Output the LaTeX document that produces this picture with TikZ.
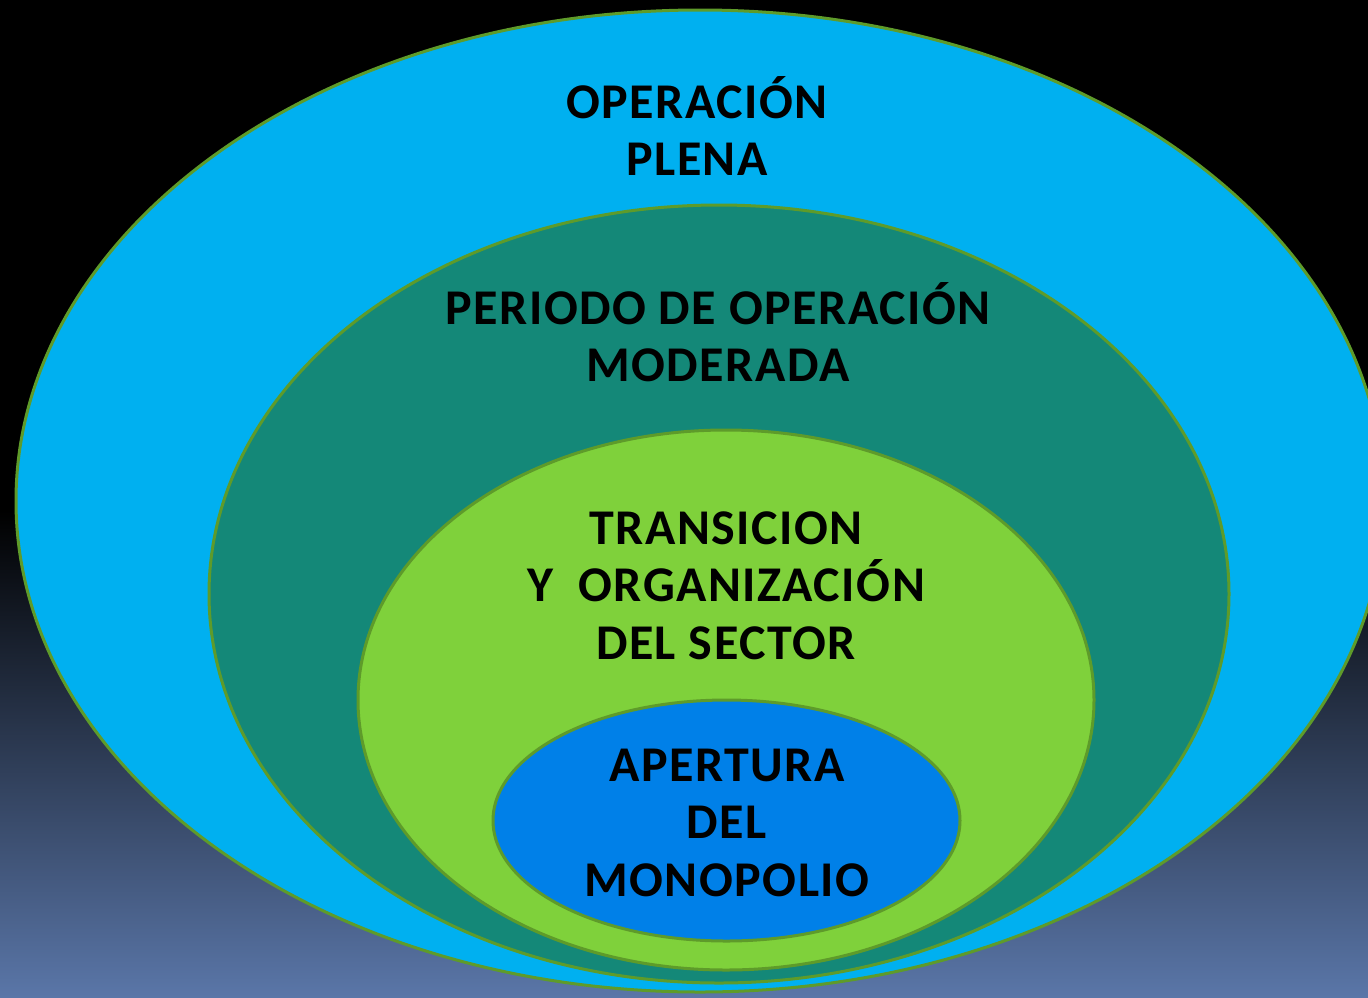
\documentclass[tikz,border=0pt]{standalone}
\usepackage{fontspec}
\setmainfont{Carlito}
\newfontfamily\lblfont{Carlito}[LetterSpace=3]
\definecolor{ringcyan}{HTML}{00B0F0}
\definecolor{ringteal}{HTML}{148878}
\definecolor{ringgreen}{HTML}{7FD13B}
\definecolor{ringblue}{HTML}{0080E8}
\definecolor{ringedge}{HTML}{5E9B2A}
\definecolor{bgblue}{HTML}{5A76A8}
\begin{document}
\begin{tikzpicture}[x=1pt,y=-1pt,
  ring/.style={draw=ringedge,line width=3pt},
  lbl/.style={font=\lblfont\bfseries\fontsize{50}{57.5}\selectfont,text=black,align=center,anchor=base,inner sep=0pt}]
\useasboundingbox (0,0) rectangle (1368,997);
\clip (0,0) rectangle (1368,997);
\fill[black] (0,0) rectangle (1368,997);
\shade[top color=black,bottom color=bgblue] (0,510) rectangle (1368,997);
% rings
\filldraw[ring,fill=ringcyan] (700,501) ellipse [x radius=684pt,y radius=491pt];
\filldraw[ring,fill=ringteal] (719,594) ellipse [x radius=510pt,y radius=389pt];
\filldraw[ring,fill=ringgreen] (726,700) ellipse [x radius=368pt,y radius=270pt];
\filldraw[ring,fill=ringblue] (726.5,820.5) ellipse [x radius=233.5pt,y radius=120.5pt];
% labels (base anchor = baseline of the last line)
\node[lbl] (plena) at (697,175.5) {OPERACIÓN\\PLENA};
\node[lbl] (moderada) at (718,381.5) {PERIODO DE OPERACIÓN\\MODERADA};
\node[lbl] (transicion) at (726,659) {TRANSICION\\Y~~ORGANIZACIÓN\\DEL SECTOR};
\node[lbl] (apertura) at (727,896) {APERTURA\\DEL\\MONOPOLIO};
\end{tikzpicture}
\end{document}
